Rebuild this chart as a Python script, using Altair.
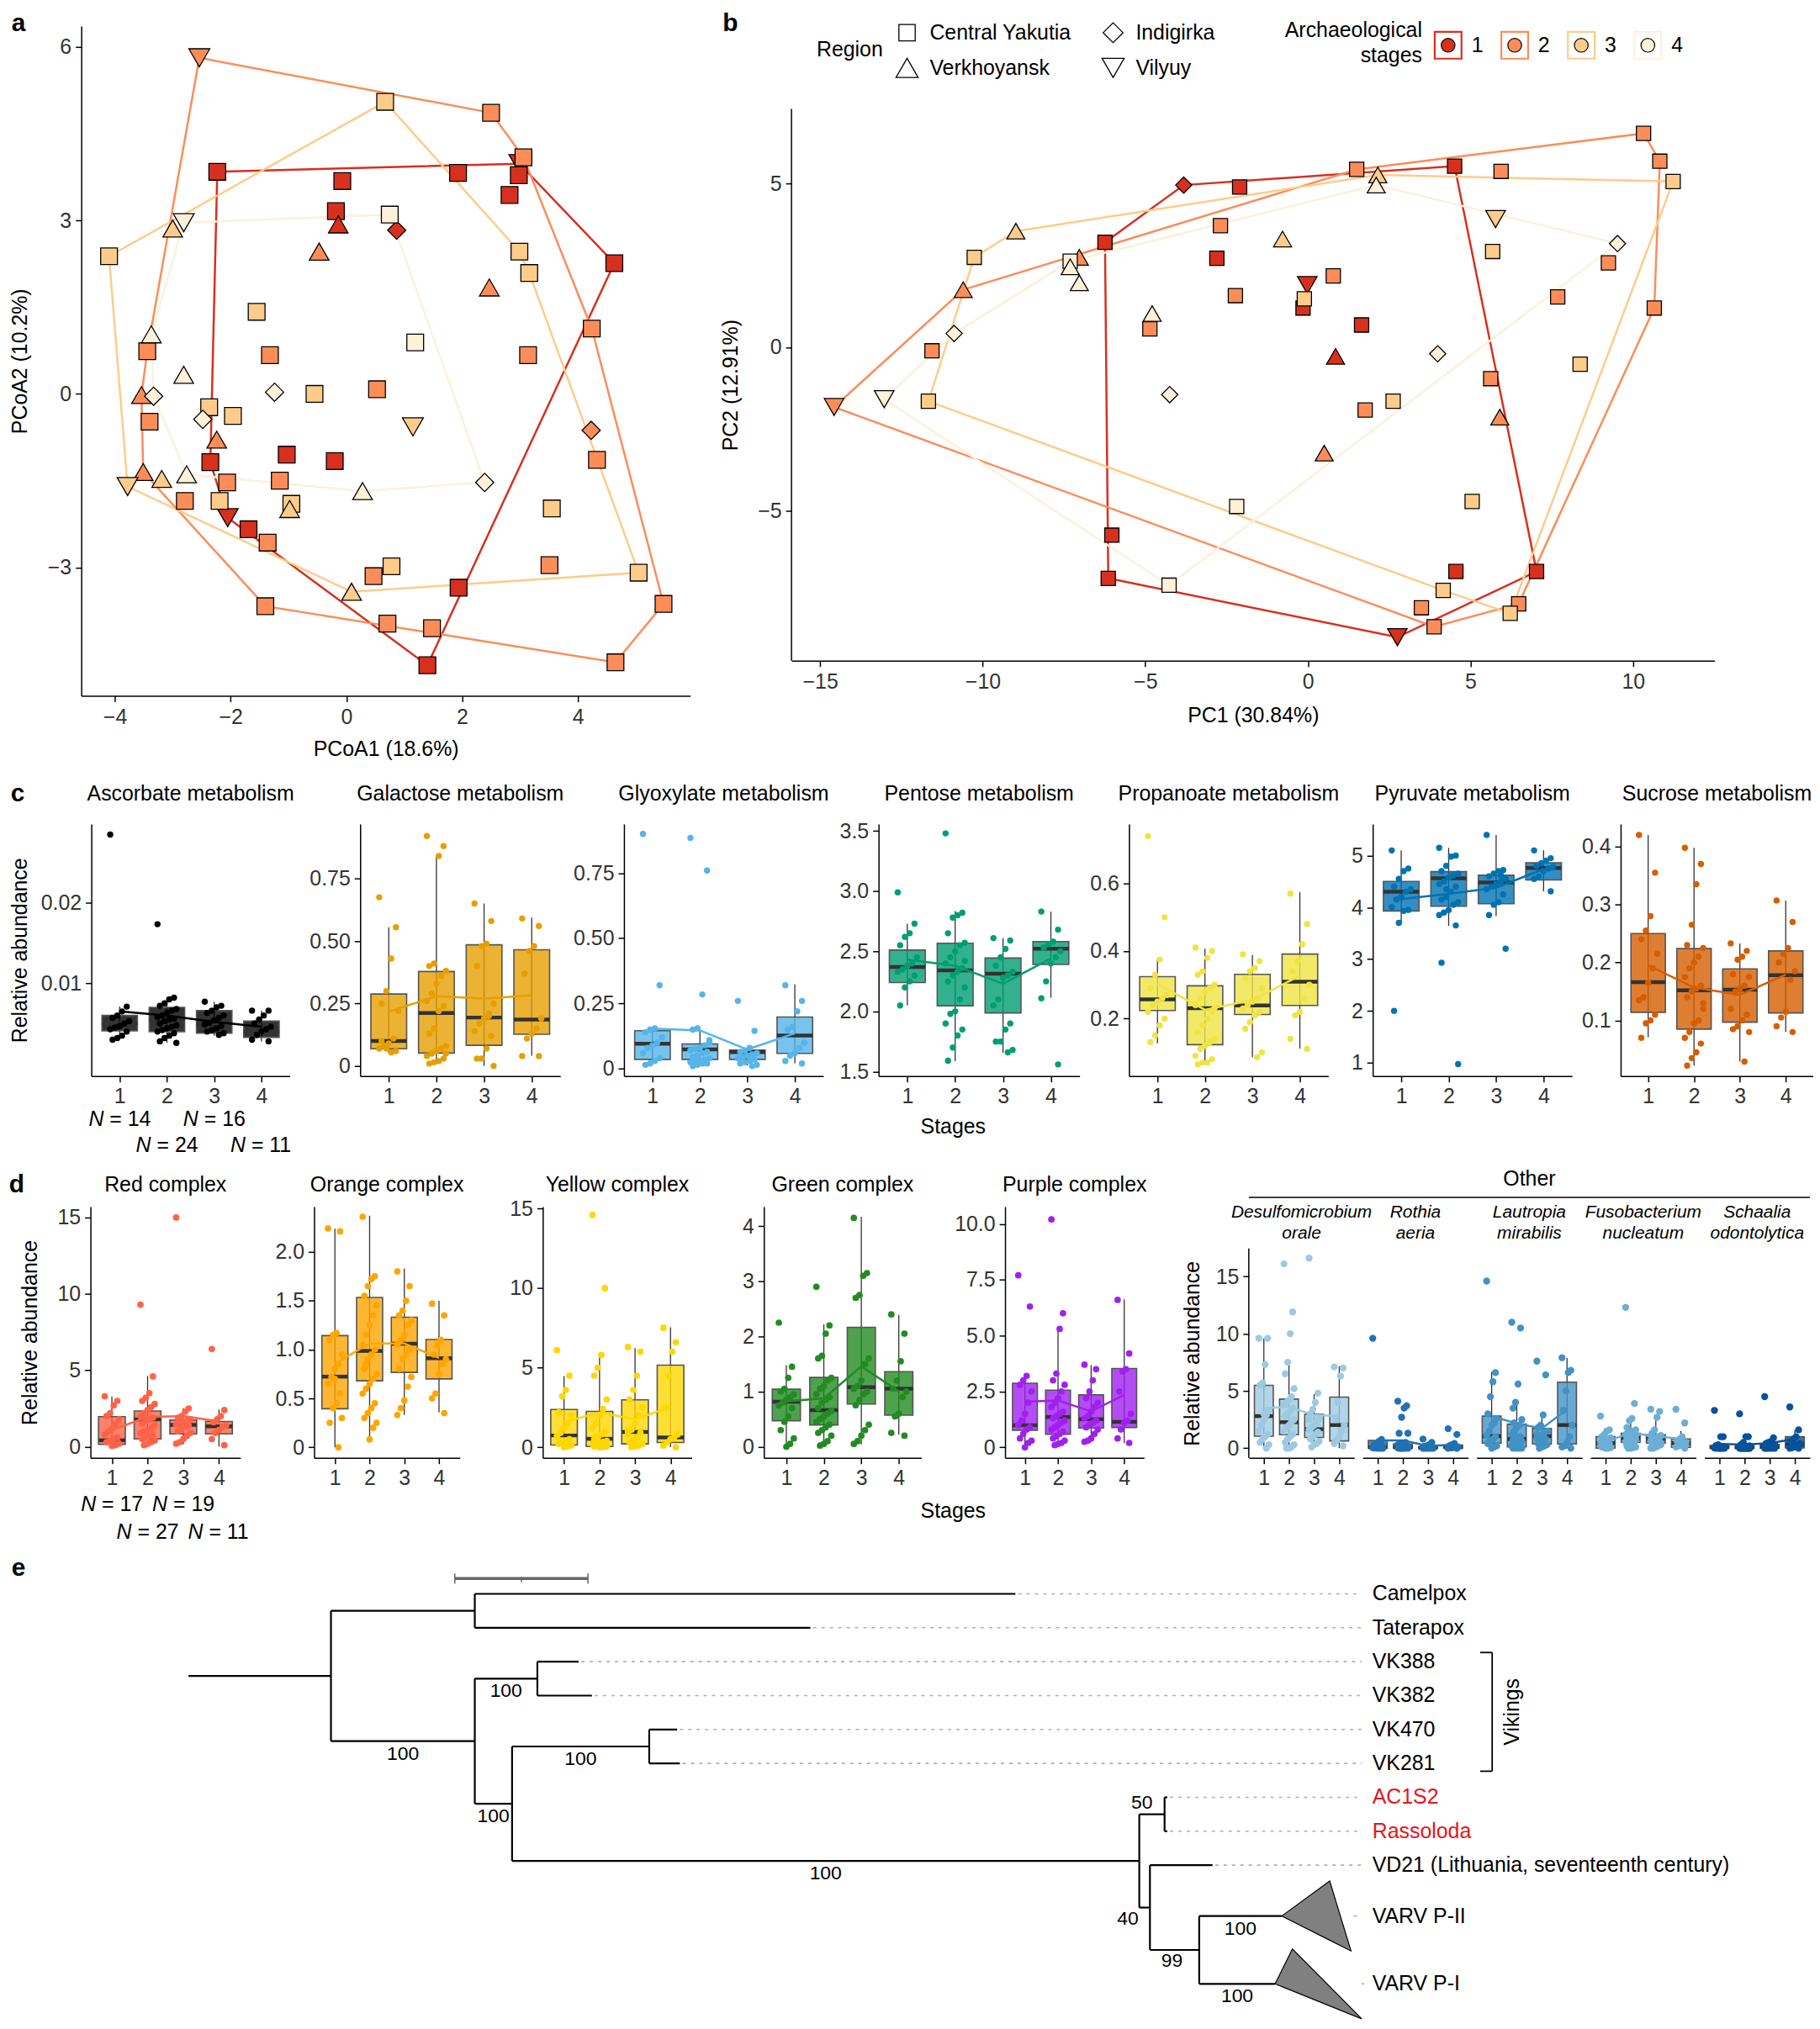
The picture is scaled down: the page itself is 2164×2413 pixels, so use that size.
import altair as alt
import pandas as pd

FONT = "Liberation Sans"
STAGES = [1, 2, 3, 4]
STAGE_KEYS = ["1", "2", "3", "4"]
STAGE_COLORS = ["#d7301f", "#fc8d59", "#fdcc8a", "#fef0d9"]
REGION_NAMES = {"S": "Central Yakutia", "D": "Indigirka", "T": "Verkhoyansk", "V": "Vilyuy"}
REGIONS = ["Central Yakutia", "Indigirka", "Verkhoyansk", "Vilyuy"]
REGION_SHAPES = ["square", "diamond", "triangle-up", "triangle-down"]

# ---------------- panel a (PCoA) ----------------
A_X = [-2.23, -0.07, -0.18, -0.14, 0.87, 1.93, 2.99, 2.98, 2.82, 4.63, -1.03, -0.20, -2.35, -2.05, -1.69, 1.94, 1.40,
       -2.54, 2.50, 3.06, 2.47, 4.24, 3.14, -1.32, 0.53, -0.47, -3.44, -3.54, -3.40, -2.24, -3.51, -2.06, -1.15, -2.79,
       -1.36, -1.40, 0.47, 0.71, 1.48, 3.51, 4.23, 4.33, 5.48, 4.65,
       0.67, -4.10, -3.00, 2.99, 3.16, -1.55, -0.55, -2.37, -1.96, 1.15, -3.78, -3.19, -2.19, -0.95, -0.98, 0.78, 0.09,
       3.55, 5.05,
       -2.81, 0.75, -3.37, -2.81, -3.33, -1.24, -2.48, 1.19, -2.76, 0.28, 2.39]
A_Y = [3.84, 3.68, 3.16, 2.93, 2.83, 3.82, 3.98, 3.78, 3.44, 2.26, -1.05, -1.16, -1.18, -2.14, -2.34, -3.35, -4.69,
       5.81, 4.86, 4.09, 1.84, 1.13, 0.67, 0.67, 0.08, 2.46, 0.74, -0.02, -0.48, -0.79, -1.35, -1.53, -1.50, -1.85,
       -2.57, -3.67, -3.15, -3.97, -4.05, -2.96, -0.63, -1.14, -3.63, -4.64,
       5.05, 2.38, 2.86, 2.46, 2.09, 1.42, 0.00, -0.23, -0.38, -0.57, -1.60, -1.47, -1.85, -1.90, -1.99, -2.98, -3.42,
       -1.98, -3.09,
       2.96, 3.10, 1.03, 0.33, -0.04, 0.03, -0.44, 0.89, -1.39, -1.68, -1.53]
A_STAGE = [1] * 17 + [2] * 27 + [3] * 19 + [4] * 11
A_REGION = list("SSSTDSVSSSSSSVSSS") + list("VSSTSSSSTSTSTTSSSSSSSSSDSSS") + list("SSTSSSSSSVVTSSTSTSS") + list("VSTTDDDSTTD")

# ---------------- panel b (PCA) ----------------
B_X = [-3.82, -2.10, -6.24, -2.80, 4.51, -0.02, -0.15, 1.65, 0.85, -6.03, -6.14, 2.75, 4.55, 7.03,
       10.32, 10.82, 1.50, 5.94, -2.69, -7.03, -10.60, 0.78, -2.23, -4.86, -11.56, -14.57, 9.24, 7.68, 10.65, 5.62,
       1.76, 5.90, 0.50, 3.49, 3.88, 6.48,
       11.23, 2.15, -0.78, -8.98, -10.26, 5.68, 5.77, -0.11, -11.67, 2.62, 8.37, 5.05, 4.16, 6.22,
       2.10, -7.31, -7.31, -7.03, -10.88, -4.79, -13.03, -4.25, 3.99, 9.52, -2.19, -4.27]
B_Y = [4.96, 4.90, 3.21, 2.72, 5.54, 1.90, 1.20, 0.68, -0.28, -5.75, -7.07, -8.87, -6.86, -6.86,
       6.54, 5.69, 5.44, 5.38, 3.72, 2.75, 1.76, 2.18, 1.58, 0.56, -0.11, -1.83, 2.58, 1.54, 1.20, -0.96,
       -1.92, -2.14, -3.24, -7.97, -8.55, -7.85,
       5.07, 5.27, 3.31, 3.55, 2.75, 2.93, 3.92, 1.48, -1.65, -1.65, -0.52, -4.72, -7.44, -8.14,
       4.96, 2.63, 2.46, 1.97, 0.42, 1.03, -1.59, -1.45, -0.20, 3.17, -4.87, -7.28]
B_STAGE = [1] * 14 + [2] * 22 + [3] * 14 + [4] * 12
B_REGION = list("DSSSSVSSTSSVSS") + list("SSSSSTTSSSSVSSSSSTTSSS") + list("STTTSSVSSSSSSS") + list("TSTTDTVDDDSS")

# ---------------- panel c (metabolism) ----------------
N_C = [14, 24, 16, 11]
C_TITLES = ["Ascorbate metabolism", "Galactose metabolism", "Glyoxylate metabolism", "Pentose metabolism",
            "Propanoate metabolism", "Pyruvate metabolism", "Sucrose metabolism"]
C_COLORS = ["#000000", "#E69F00", "#56B4E9", "#009E73", "#F0E442", "#0072B2", "#D55E00"]

ASC_PTS = [[0.0284, 0.0071, 0.0065, 0.0060, 0.0057, 0.0053, 0.0050, 0.0047, 0.0045, 0.0043, 0.0040, 0.0035, 0.0032, 0.0030],
           [0.0173, 0.0082, 0.0080, 0.0075, 0.0072, 0.0068, 0.0066, 0.0063, 0.0060, 0.0058, 0.0056, 0.0055, 0.0053, 0.0050,
            0.0048, 0.0046, 0.0044, 0.0042, 0.0040, 0.0038, 0.0035, 0.0032, 0.0028, 0.0026],
           [0.0077, 0.0072, 0.0070, 0.0066, 0.0063, 0.0060, 0.0057, 0.0054, 0.0051, 0.0049, 0.0047, 0.0044, 0.0042, 0.0040,
            0.0038, 0.0036],
           [0.0066, 0.0066, 0.0060, 0.0055, 0.0050, 0.0046, 0.0043, 0.0040, 0.0036, 0.0030, 0.0028]]
ASC_BOX = [[0.0032, 0.0041, 0.0050, 0.0060, 0.0071], [0.0026, 0.0040, 0.0055, 0.0070, 0.0082],
           [0.0035, 0.0038, 0.0050, 0.0066, 0.0077], [0.0028, 0.0033, 0.0040, 0.0053, 0.0066]]
ASC_TREND = [0.0065, 0.0060, 0.0052, 0.0046]
ASC_DOM, ASC_TICKS = [-0.0015, 0.0297], [0.01, 0.02]

GAL_PTS = [[0.675, 0.555, 0.43, 0.30, 0.25, 0.22, 0.11, 0.09, 0.08, 0.07, 0.06, 0.055, 0.07, 0.10],
           [0.92, 0.88, 0.84, 0.41, 0.40, 0.38, 0.36, 0.33, 0.29, 0.26, 0.24, 0.22, 0.15, 0.13, 0.08, 0.07, 0.06, 0.05,
            0.04, 0.03, 0.02, 0.015, 0.01, 0.05],
           [0.65, 0.58, 0.49, 0.48, 0.40, 0.25, 0.21, 0.19, 0.17, 0.14, 0.12, 0.07, 0.03, 0.03, 0.0, 0.20],
           [0.59, 0.56, 0.48, 0.46, 0.37, 0.19, 0.15, 0.13, 0.11, 0.04, 0.04]]
GAL_BOX = [[0.052, 0.069, 0.100, 0.288, 0.555], [0.008, 0.052, 0.212, 0.378, 0.842],
           [0.0, 0.083, 0.194, 0.485, 0.650], [0.041, 0.127, 0.186, 0.465, 0.594]]
GAL_TREND = [0.218, 0.279, 0.270, 0.283]
GAL_DOM, GAL_TICKS = [-0.04, 0.968], [0, 0.25, 0.5, 0.75]

GLY_PTS = [[0.90, 0.32, 0.155, 0.15, 0.14, 0.12, 0.10, 0.09, 0.08, 0.06, 0.04, 0.03, 0.02, 0.015],
           [0.885, 0.76, 0.285, 0.155, 0.15, 0.11, 0.09, 0.08, 0.075, 0.07, 0.065, 0.06, 0.05, 0.045, 0.04, 0.035, 0.03,
            0.03, 0.025, 0.02, 0.02, 0.015, 0.01, 0.10],
           [0.26, 0.145, 0.08, 0.07, 0.065, 0.06, 0.055, 0.05, 0.045, 0.04, 0.035, 0.03, 0.025, 0.02, 0.015, 0.01],
           [0.32, 0.26, 0.22, 0.16, 0.15, 0.10, 0.08, 0.06, 0.05, 0.03, 0.02]]
GLY_BOX = [[0.015, 0.036, 0.096, 0.146, 0.157], [0.012, 0.036, 0.074, 0.095, 0.152],
           [0.012, 0.036, 0.064, 0.072, 0.080], [0.021, 0.059, 0.127, 0.198, 0.323]]
GLY_TREND = [0.154, 0.147, 0.074, 0.136]
GLY_DOM, GLY_TICKS = [-0.028, 0.938], [0, 0.25, 0.5, 0.75]

PEN_PTS = [[2.99, 2.73, 2.65, 2.62, 2.55, 2.45, 2.40, 2.38, 2.35, 2.33, 2.30, 2.25, 2.20, 2.05],
           [3.48, 2.82, 2.80, 2.78, 2.65, 2.57, 2.55, 2.50, 2.45, 2.40, 2.36, 2.33, 2.30, 2.25, 2.20, 2.10, 2.00, 1.98,
            1.90, 1.85, 1.80, 1.70, 1.59, 2.42],
           [2.61, 2.59, 2.52, 2.45, 2.38, 2.33, 2.30, 2.28, 2.10, 2.05, 1.90, 1.85, 1.75, 1.75, 1.68, 1.66],
           [2.83, 2.68, 2.58, 2.56, 2.53, 2.50, 2.45, 2.40, 2.25, 2.11, 1.56]]
PEN_BOX = [[2.05, 2.24, 2.37, 2.51, 2.73], [1.586, 2.047, 2.342, 2.567, 2.835],
           [1.656, 1.988, 2.314, 2.444, 2.61], [2.114, 2.391, 2.521, 2.581, 2.83]]
PEN_TREND = [2.43, 2.38, 2.23, 2.44]
PEN_DOM, PEN_TICKS = [1.463, 3.558], [1.5, 2.0, 2.5, 3.0, 3.5]

PRO_PTS = [[0.74, 0.50, 0.375, 0.33, 0.29, 0.27, 0.26, 0.25, 0.24, 0.22, 0.20, 0.18, 0.15, 0.13],
           [0.41, 0.40, 0.38, 0.34, 0.33, 0.30, 0.29, 0.28, 0.26, 0.24, 0.22, 0.20, 0.18, 0.16, 0.14, 0.13, 0.12, 0.11,
            0.09, 0.08, 0.07, 0.07, 0.065, 0.23],
           [0.39, 0.37, 0.35, 0.34, 0.32, 0.29, 0.26, 0.25, 0.24, 0.23, 0.22, 0.21, 0.19, 0.17, 0.10, 0.086],
           [0.57, 0.48, 0.42, 0.37, 0.34, 0.30, 0.26, 0.22, 0.21, 0.14, 0.11]]
PRO_BOX = [[0.127, 0.224, 0.257, 0.324, 0.375], [0.065, 0.123, 0.231, 0.297, 0.407],
           [0.086, 0.212, 0.239, 0.331, 0.388], [0.111, 0.239, 0.309, 0.391, 0.574]]
PRO_TREND = [0.302, 0.226, 0.255, 0.327]
PRO_DOM, PRO_TICKS = [0.030, 0.776], [0.2, 0.4, 0.6]

PYR_PTS = [[5.10, 4.75, 4.70, 4.55, 4.40, 4.35, 4.30, 4.20, 4.15, 4.00, 3.95, 3.93, 3.70, 2.00],
           [5.15, 5.00, 4.98, 4.80, 4.70, 4.65, 4.62, 4.58, 4.50, 4.45, 4.40, 4.30, 4.20, 4.15, 4.10, 4.05, 3.95, 3.90,
            3.85, 3.65, 4.60, 4.35, 2.93, 0.97],
           [5.40, 4.72, 4.70, 4.65, 4.60, 4.55, 4.50, 4.45, 4.40, 4.35, 4.25, 4.10, 4.05, 3.85, 3.20, 4.62],
           [5.10, 4.95, 4.90, 4.85, 4.80, 4.78, 4.75, 4.70, 4.60, 4.55, 4.31]]
PYR_BOX = [[3.69, 3.93, 4.30, 4.50, 5.10], [3.64, 4.02, 4.56, 4.69, 5.15],
           [3.83, 4.07, 4.48, 4.62, 5.40], [4.31, 4.53, 4.76, 4.86, 5.10]]
PYR_TREND = [4.16, 4.26, 4.38, 4.74]
PYR_DOM, PYR_TICKS = [0.74, 5.61], [1, 2, 3, 4, 5]

SUC_PTS = [[0.42, 0.355, 0.28, 0.255, 0.24, 0.215, 0.19, 0.165, 0.14, 0.135, 0.11, 0.10, 0.095, 0.07],
           [0.398, 0.37, 0.335, 0.265, 0.23, 0.225, 0.21, 0.20, 0.19, 0.175, 0.16, 0.155, 0.15, 0.14, 0.12, 0.10,
            0.095, 0.08, 0.07, 0.06, 0.045, 0.035, 0.022, 0.13],
           [0.233, 0.22, 0.21, 0.205, 0.18, 0.175, 0.16, 0.155, 0.15, 0.12, 0.11, 0.10, 0.09, 0.085, 0.08, 0.029],
           [0.307, 0.27, 0.225, 0.215, 0.20, 0.185, 0.17, 0.115, 0.105, 0.09, 0.08]]
SUC_BOX = [[0.071, 0.114, 0.166, 0.250, 0.42], [0.022, 0.085, 0.152, 0.224, 0.398],
           [0.029, 0.097, 0.153, 0.189, 0.233], [0.080, 0.113, 0.178, 0.220, 0.307]]
SUC_TREND = [0.195, 0.157, 0.144, 0.179]
SUC_DOM, SUC_TICKS = [0.004, 0.439], [0.1, 0.2, 0.3, 0.4]

# ---------------- panel d (complexes and other taxa) ----------------
N_D = [17, 27, 19, 11]
D_TITLES = ["Red complex", "Orange complex", "Yellow complex", "Green complex", "Purple complex"]
D_COLORS = ["#FF6347", "#FFA500", "#FFD700", "#228B22", "#A020F0"]

RED_PTS = [[3.3, 3.0, 2.7, 2.2, 2.0, 1.8, 1.5, 1.2, 1.0, 0.8, 0.6, 0.5, 0.4, 0.3, 0.2, 0.1, 0.05],
           [9.3, 4.6, 3.5, 3.2, 3.0, 2.8, 2.6, 2.4, 2.2, 2.0, 1.9, 1.8, 1.7, 1.5, 1.4, 1.2, 1.1, 1.0, 0.9, 0.8, 0.7,
            0.6, 0.5, 0.4, 0.3, 0.2, 0.1],
           [15.0, 2.5, 2.3, 2.0, 1.9, 1.8, 1.7, 1.6, 1.5, 1.45, 1.4, 1.3, 1.2, 1.0, 0.9, 0.7, 0.5, 0.3, 0.2],
           [6.4, 2.4, 2.0, 1.8, 1.6, 1.4, 1.3, 1.1, 0.9, 0.5, 0.1]]
RED_BOX = [[0.0, 0.15, 0.42, 1.97, 3.29], [0.0, 0.51, 1.79, 2.34, 4.63], [0.15, 0.84, 1.43, 1.75, 2.52],
           [0.0, 0.84, 1.33, 1.65, 2.43]]
RED_TREND = [1.10, 1.94, 2.01, 1.65]
RED_DOM, RED_TICKS = [-0.73, 15.71], [0, 5, 10, 15]

ORA_PTS = [[2.24, 2.21, 1.17, 1.15, 1.10, 0.95, 0.85, 0.80, 0.72, 0.65, 0.55, 0.45, 0.40, 0.25, 0.30, 0.0, 0.7],
           [2.36, 1.75, 1.72, 1.65, 1.55, 1.45, 1.35, 1.25, 1.15, 1.05, 1.00, 0.95, 0.90, 0.80, 0.75, 0.70, 0.65, 0.60,
            0.55, 0.45, 0.40, 0.35, 0.30, 0.25, 0.20, 0.08, 0.85],
           [1.80, 1.65, 1.50, 1.40, 1.35, 1.30, 1.25, 1.15, 1.10, 1.05, 1.00, 0.95, 0.90, 0.80, 0.72, 0.62, 0.48, 0.40,
            0.33],
           [1.47, 1.35, 1.10, 1.05, 0.95, 0.90, 0.85, 0.75, 0.55, 0.50, 0.35]]
ORA_BOX = [[0.0, 0.394, 0.723, 1.143, 2.237], [0.086, 0.680, 0.986, 1.534, 2.37], [0.33, 0.766, 1.06, 1.331, 1.83],
           [0.357, 0.70, 0.911, 1.103, 1.5]]
ORA_TREND = [0.857, 1.063, 1.063, 0.914]
ORA_DOM, ORA_TICKS = [-0.109, 2.463], [0, 0.5, 1.0, 1.5, 2.0]

YEL_PTS = [[6.1, 4.5, 3.6, 3.2, 2.2, 2.0, 1.5, 1.2, 0.9, 0.7, 0.5, 0.4, 0.3, 0.2, 0.1, 0.05, 0.0],
           [14.6, 10.0, 5.8, 5.0, 4.5, 3.0, 2.4, 2.0, 1.5, 1.2, 1.0, 0.8, 0.6, 0.5, 0.4, 0.35, 0.3, 0.25, 0.2, 0.15,
            0.1, 0.1, 0.05, 0.05, 0.0, 0.0, 0.7],
           [6.3, 6.0, 4.5, 3.6, 3.0, 2.5, 2.0, 1.5, 1.1, 1.0, 0.9, 0.6, 0.4, 0.3, 0.2, 0.1, 0.05, 0.0, 0.8],
           [7.5, 6.6, 6.0, 4.5, 2.5, 0.8, 0.6, 0.5, 0.3, 0.1, 0.0]]
YEL_BOX = [[0, 0.14, 0.74, 2.37, 4.47], [0, 0.05, 0.53, 2.25, 5.88], [0, 0.21, 0.96, 2.98, 6.23],
           [0, 0.30, 0.61, 5.16, 7.54]]
YEL_TREND = [1.58, 2.19, 1.75, 2.54]
YEL_DOM, YEL_TICKS = [-0.67, 15.12], [0, 5, 10, 15]

GRN_PTS = [[2.25, 1.45, 1.25, 1.05, 1.00, 0.95, 0.90, 0.85, 0.80, 0.75, 0.70, 0.55, 0.45, 0.30, 0.15, 0.05, 0.0],
           [2.9, 2.2, 2.05, 1.65, 1.60, 1.25, 1.20, 1.10, 1.05, 0.95, 0.90, 0.85, 0.80, 0.70, 0.65, 0.60, 0.55, 0.50,
            0.45, 0.40, 0.35, 0.30, 0.25, 0.20, 0.10, 0.05, 0.02],
           [4.15, 3.15, 3.10, 2.75, 2.70, 1.60, 1.50, 1.20, 1.10, 1.05, 1.00, 0.95, 0.85, 0.75, 0.40, 0.30, 0.20, 0.10,
            0.05],
           [2.40, 2.05, 1.55, 1.20, 1.05, 1.00, 0.90, 0.60, 0.55, 0.25, 0.20]]
GRN_BOX = [[0, 0.471, 0.815, 1.043, 1.48], [0.015, 0.395, 0.663, 1.256, 2.22], [0.04, 0.775, 1.078, 2.167, 4.17],
           [0.218, 0.572, 1.053, 1.362, 2.39]]
GRN_TREND = [0.825, 0.876, 1.458, 1.003]
GRN_DOM, GRN_TICKS = [-0.203, 4.354], [0, 1, 2, 3, 4]

PUR_PTS = [[7.7, 6.3, 3.2, 3.0, 2.8, 2.5, 2.0, 1.5, 1.2, 1.0, 0.9, 0.8, 0.6, 0.4, 0.3, 0.2, 0.0],
           [10.2, 6.0, 5.3, 3.3, 3.0, 2.8, 2.5, 2.2, 2.0, 1.8, 1.6, 1.5, 1.4, 1.3, 1.2, 1.1, 1.0, 0.9, 0.8, 0.7, 0.6,
            0.5, 0.4, 0.3, 0.2, 0.15, 0.1],
           [3.7, 3.5, 3.0, 2.5, 2.2, 2.0, 1.8, 1.6, 1.4, 1.3, 1.2, 1.1, 1.0, 0.9, 0.8, 0.6, 0.4, 0.3, 0.25],
           [6.6, 4.2, 3.5, 3.4, 2.5, 1.5, 1.2, 1.1, 0.8, 0.4, 0.2]]
PUR_BOX = [[0, 0.77, 0.99, 2.87, 3.28], [0.12, 0.59, 1.36, 2.56, 5.30], [0.25, 0.87, 1.26, 2.35, 3.68],
           [0.19, 0.89, 1.14, 3.53, 6.62]]
PUR_TREND = [2.04, 2.10, 1.61, 2.35]
PUR_DOM, PUR_TICKS = [-0.47, 10.77], [0, 2.5, 5.0, 7.5, 10.0]

OTHER_LINE1 = ["Desulfomicrobium", "Rothia", "Lautropia", "Fusobacterium", "Schaalia"]
OTHER_LINE2 = ["orale", "aeria", "mirabilis", "nucleatum", "odontolytica"]
OTHER_COLORS = ["#9ECAE1", "#2171B5", "#4292C6", "#6BAED6", "#08519C"]
OTHER_VISIBLE_DOM = [-0.85, 17.44]
OTHER_TICKS = [0, 5, 10, 15]

DES_PTS = [[9.6, 9.6, 7.3, 5.7, 5.5, 3.3, 2.9, 2.5, 2.0, 1.5, 1.2, 1.0, 0.8, 0.5, 0.3, 0.0, 3.0],
           [16.1, 11.9, 10.0, 7.5, 6.5, 5.2, 4.5, 4.2, 4.0, 3.8, 3.5, 3.2, 3.0, 2.8, 2.5, 2.3, 2.0, 1.8, 1.5, 1.2, 1.0,
            0.8, 0.5, 0.3, 0.1, 0.0, 0.0],
           [16.6, 4.8, 4.0, 3.4, 3.0, 2.6, 2.2, 2.0, 1.8, 1.6, 1.4, 1.2, 1.0, 0.8, 0.6, 0.4, 0.3, 0.1, 2.5],
           [7.1, 7.0, 6.3, 4.0, 2.5, 2.0, 1.5, 1.0, 0.7, 0.4, 0.2]]
DES_BOX = [[0, 1.05, 2.80, 5.49, 9.59], [0, 1.17, 2.27, 4.29, 7.27], [0, 0.93, 1.66, 2.95, 4.71], [0, 0.63, 2.02, 4.46, 7.15]]
DES_TREND = [3.49, 3.61, 2.88, 2.80]

ROT_PTS = [[9.6, 0.75, 0.6, 0.4, 0.3, 0.2, 0.15, 0.1, 0.08, 0.05, 0.05, 0.03, 0.02, 0.01, 0, 0, 0],
           [4.1, 3.7, 3.5, 2.7, 1.3, 1.3, 0.5, 0.4, 0.35, 0.3, 0.25, 0.2, 0.15, 0.1, 0.1, 0.08, 0.05, 0.05, 0.03, 0.02,
            0.01, 0, 0, 0, 0, 0, 0],
           [0.8, 0.5, 0.3, 0.2, 0.15, 0.1, 0.1, 0.08, 0.05, 0.05, 0.03, 0.02, 0.01, 0.01, 0, 0, 0, 0, 0],
           [1.7, 1.2, 0.4, 0.3, 0.2, 0.1, 0.08, 0.05, 0.02, 0, 0]]
ROT_BOX = [[0, 0, 0.07, 0.68, 0.8], [0, 0, 0.07, 0.37, 0.6], [0, 0, 0.02, 0.12, 0.3], [0, 0, 0.08, 0.27, 0.5]]
ROT_TREND = [0.68, 0.68, 0.20, 0.30]

LAU_PTS = [[14.6, 6.6, 5.8, 4.5, 3.0, 2.6, 2.2, 2.0, 1.5, 1.1, 1.0, 0.8, 0.6, 0.4, 0.2, 0.1, 0.0],
           [11.0, 10.5, 5.6, 4.0, 3.5, 2.5, 2.0, 1.8, 1.5, 1.2, 1.0, 0.9, 0.8, 0.7, 0.6, 0.5, 0.4, 0.3, 0.2, 0.15, 0.1,
            0.05, 0.0, 0.0, 0.0, 0.0, 2.2],
           [7.6, 6.4, 2.9, 2.0, 1.8, 1.5, 1.3, 1.1, 1.0, 0.9, 0.8, 0.6, 0.5, 0.4, 0.3, 0.2, 0.1, 0.0, 1.2],
           [7.9, 6.8, 6.6, 5.0, 3.3, 2.0, 1.0, 0.5, 0.2, 0.1, 0.0]]
LAU_BOX = [[0, 0.44, 1.05, 2.80, 6.66], [0, 0.12, 0.80, 2.10, 4.10], [0, 0.37, 1.05, 1.73, 3.0], [0, 0.37, 2.02, 5.76, 7.88]]
LAU_TREND = [2.80, 2.15, 1.73, 3.37]

FUS_PTS = [[2.8, 1.6, 1.5, 1.2, 1.0, 0.9, 0.8, 0.7, 0.6, 0.5, 0.4, 0.3, 0.2, 0.1, 0.05, 0.0, 0.0],
           [12.3, 3.9, 2.6, 2.4, 1.8, 1.6, 1.5, 1.4, 1.3, 1.2, 1.1, 1.0, 0.95, 0.9, 0.85, 0.8, 0.7, 0.6, 0.55, 0.5, 0.4,
            0.3, 0.2, 0.1, 0.05, 0.0, 0.0],
           [3.4, 3.2, 2.7, 1.6, 1.3, 1.1, 1.0, 0.9, 0.8, 0.7, 0.6, 0.5, 0.45, 0.4, 0.3, 0.2, 0.1, 0.0, 0.0],
           [3.4, 2.2, 1.0, 0.8, 0.6, 0.5, 0.4, 0.3, 0.2, 0.1, 0.0]]
FUS_BOX = [[0, 0, 0.44, 1.0, 1.66], [0, 0.51, 0.88, 1.29, 2.63], [0, 0.44, 0.80, 1.17, 2.5], [0, 0.07, 0.44, 0.80, 1.5]]
FUS_TREND = [0.56, 1.34, 1.05, 0.80]

SCH_PTS = [[3.3, 1.0, 1.0, 0.3, 0.2, 0.1, 0.1, 0.05, 0.03, 0.02, 0.01, 0, 0, 0, 0, 0, 0],
           [3.0, 1.0, 1.0, 0.5, 0.3, 0.2, 0.15, 0.1, 0.1, 0.05, 0.05, 0.03, 0.02, 0.01, 0, 0, 0, 0, 0, 0, 0, 0, 0, 0,
            0, 0, 0],
           [4.5, 0.9, 0.6, 0.5, 0.4, 0.3, 0.2, 0.15, 0.1, 0.05, 0.03, 0.02, 0.01, 0, 0, 0, 0, 0, 0],
           [3.6, 1.6, 1.0, 0.8, 0.6, 0.4, 0.2, 0.1, 0.05, 0, 0]]
SCH_BOX = [[0, 0, 0.07, 0.24, 0.5], [0, 0, 0.05, 0.24, 0.5], [0, 0, 0.10, 0.32, 0.7], [0, 0.02, 0.32, 1.0, 1.6]]
SCH_TREND = [0.37, 0.32, 0.44, 0.80]

# ---------------- panel e (phylogeny) ----------------
NODE_NAMES = ["root", "A", "B", "Camelpox", "Taterapox", "C", "D", "VK388", "VK382", "E", "F", "VK470", "VK281",
              "G", "H", "AC1S2", "Rassoloda", "I", "VD21 (Lithuania, seventeenth century)", "J", "VARV P-II", "VARV P-I"]
NODE_PARENTS = [None, "root", "A", "B", "B", "A", "C", "D", "D", "C", "E", "F", "F", "E", "G", "H", "H", "G", "I",
                "I", "J", "J"]
BRANCH_LENGTHS = [0.0, 1.07, 1.08, 4.06, 2.52, 1.08, 0.47, 0.31, 0.41, 0.28, 1.03, 0.21, 0.23, 4.71, 0.19, 0.02,
                  0.02, 0.08, 0.47, 0.37, 0.62, 0.57]
BOOT_NODES = ["C", "D", "E", "F", "G", "H", "I", "J", "VARV P-II", "VARV P-I"]
BOOT_VALUES = [100, 100, 100, 100, 100, 50, 40, 99, 100, 100]
COLLAPSED = ["VARV P-II", "VARV P-I"]
COLLAPSED_DEPTH_TOP = [0.36, 0.13]
COLLAPSED_DEPTH_BOTTOM = [0.52, 0.65]
HIGHLIGHT_TIPS = ["AC1S2", "Rassoloda"]
VIKING_TIPS = ["VK388", "VK382", "VK470", "VK281"]
SCALE_BAR_LENGTH = 1.0

ONE = pd.DataFrame({"a": [0]})


# =====================================================================
def text_layer(x, y, label, size=25, weight="normal", style="normal", align="center", baseline="middle",
               angle=None, color="black"):
    kw = dict(font=FONT, fontSize=size, fontWeight=weight, fontStyle=style, align=align, baseline=baseline,
              color=color)
    if angle is not None:
        kw["angle"] = angle
    return alt.Chart(pd.DataFrame({"t": [label]})).mark_text(**kw).encode(
        x=alt.value(x), y=alt.value(y), text="t:N")


def anchor_layer(x, y1, y2):
    # white (invisible on the white page) line that fixes the vertical extent of a row
    return alt.Chart(ONE).mark_rule(color="white", strokeWidth=1).encode(
        x=alt.value(x), y=alt.value(y1), y2=alt.value(y2))


def vline(x, y1, y2, color="black", width=1.5):
    return alt.Chart(ONE).mark_rule(color=color, strokeWidth=width).encode(
        x=alt.value(x), y=alt.value(y1), y2=alt.value(y2))


def spacer(w, h, layers=()):
    base = alt.Chart(ONE).mark_point(opacity=0).encode(x=alt.value(0), y=alt.value(0))
    return alt.layer(*layers, base).properties(width=w, height=h)


def convex_hull(points):
    pts = sorted(set(points))
    if len(pts) <= 2:
        return pts

    def cross(o, a, b):
        return (a[0] - o[0]) * (b[1] - o[1]) - (a[1] - o[1]) * (b[0] - o[0])

    lower, upper = [], []
    for p in pts:
        while len(lower) >= 2 and cross(lower[-2], lower[-1], p) <= 0:
            lower.pop()
        lower.append(p)
    for p in reversed(pts):
        while len(upper) >= 2 and cross(upper[-2], upper[-1], p) <= 0:
            upper.pop()
        upper.append(p)
    return lower[:-1] + upper[:-1]


def ord_panel(xs_, ys_, st_, rg_, xdom, ydom, xticks, yticks, w, h, xtitle, ytitle, xpad, ypad, sizes,
              pre=(), post=(), ydomain_line=True, ytitle_y=None):
    df = pd.DataFrame({"x": xs_, "y": ys_, "stage": [str(s) for s in st_],
                       "region": [REGION_NAMES[r] for r in rg_]})
    hrows = []
    for s in STAGE_KEYS:
        sub = df[df.stage == s]
        hull = convex_hull(list(zip(sub.x, sub.y)))
        hull = hull + hull[:1]
        for i, (hx, hy) in enumerate(hull):
            hrows.append({"x": hx, "y": hy, "stage": s, "o": i})
    dh = pd.DataFrame(hrows)
    XS = alt.Scale(domain=xdom, nice=False, zero=False)
    YS = alt.Scale(domain=ydom, nice=False, zero=False)
    xax = alt.Axis(values=xticks, title=xtitle, titlePadding=xpad, labelPadding=6)
    ykw = dict(values=yticks, title=ytitle, titlePadding=ypad, domain=ydomain_line)
    if ytitle_y is not None:
        ykw["titleY"] = ytitle_y
    yax = alt.Axis(**ykw)
    stage_scale = alt.Scale(domain=STAGE_KEYS, range=STAGE_COLORS)
    hull_l = alt.Chart(dh).mark_line(strokeWidth=2.5).encode(
        x=alt.X("x:Q", scale=XS, axis=xax, title=xtitle),
        y=alt.Y("y:Q", scale=YS, axis=yax, title=ytitle),
        color=alt.Color("stage:N", scale=stage_scale, legend=None),
        detail="stage:N", order="o:Q")
    pts = alt.Chart(df).mark_point(filled=True, stroke="black", strokeWidth=1.3, opacity=1, fillOpacity=1).encode(
        x=alt.X("x:Q", scale=XS, axis=xax, title=xtitle),
        y=alt.Y("y:Q", scale=YS, axis=yax, title=ytitle),
        fill=alt.Fill("stage:N", scale=stage_scale, legend=None),
        shape=alt.Shape("region:N", scale=alt.Scale(domain=REGIONS, range=REGION_SHAPES), legend=None),
        size=alt.Size("region:N", scale=alt.Scale(domain=REGIONS, range=sizes), legend=None))
    return alt.layer(*pre, hull_l, pts, *post).properties(width=w, height=h)


def box_panel(pts, box, trend, color, dom, ticks, fmt, w, h, title=None, title_dy=36, yaxis=True,
              ytitle=None, ytitle_pad=16, ytitle_y=None, ydomain_line=True, pt_size=55, extra=None, pre=()):
    dpts = pd.DataFrame([{"stage": s, "k": k, "value": v} for s, vals in zip(STAGES, pts)
                         for k, v in enumerate(vals)])
    dbox = pd.DataFrame({"stage": STAGES, "lo": [b[0] for b in box], "q1": [b[1] for b in box],
                         "med": [b[2] for b in box], "q3": [b[3] for b in box], "hi": [b[4] for b in box]})
    dtr = pd.DataFrame({"stage": STAGES, "value": trend})
    xs = alt.Scale(domain=[0.4, 4.6], nice=False, zero=False)
    ys = alt.Scale(domain=dom, nice=False, zero=False)
    xax = alt.Axis(values=STAGES, format="d", title=None)
    if yaxis:
        kw = dict(values=ticks, labelExpr=f"datum.value == 0 ? '0' : format(datum.value, '{fmt}')",
                  title=ytitle, domain=ydomain_line)
        if ytitle:
            kw["titlePadding"] = ytitle_pad
        if ytitle_y is not None:
            kw["titleY"] = ytitle_y
        yax = alt.Axis(**kw)
    else:
        yax = None

    def X(f):
        return alt.X(f, scale=xs, axis=xax, title=None)

    def Y(f):
        return alt.Y(f, scale=ys, axis=yax, title=ytitle)

    whisk = alt.Chart(dbox).mark_rule(color="#333333", strokeWidth=1.3).encode(
        x=X("stage:Q"), y=Y("lo:Q"), y2="hi:Q")
    boxes = alt.Chart(dbox).transform_calculate(xa="datum.stage - 0.375", xb="datum.stage + 0.375").mark_rect(
        fill=color, fillOpacity=0.8, stroke="#555555", strokeWidth=1.6).encode(
        x=X("xa:Q"), x2="xb:Q", y=Y("q1:Q"), y2="q3:Q")
    med = alt.Chart(dbox).transform_calculate(xa="datum.stage - 0.375", xb="datum.stage + 0.375").mark_rule(
        color="#333333", strokeWidth=4.5).encode(x=X("xa:Q"), x2="xb:Q", y=Y("med:Q"))
    points = alt.Chart(dpts).transform_calculate(
        xj="datum.stage + (((datum.k * 7) % 9) - 4) * 0.05").mark_circle(
        size=pt_size, color=color, opacity=1).encode(x=X("xj:Q"), y=Y("value:Q"))
    line = alt.Chart(dtr).mark_line(color=color, strokeWidth=2.5).encode(x=X("stage:Q"), y=Y("value:Q"))
    layers = list(pre) + [whisk, boxes, med, points, line]
    if title:
        layers.append(text_layer(w / 2, -title_dy, title))
    if extra is not None:
        layers += extra(X, Y, w, h)
    return alt.layer(*layers).properties(width=w, height=h)


def n_labels(counts, y1, y2):
    def make(X, Y, w, h):
        dN = pd.DataFrame({"stage": STAGES, "n": counts})
        out = []
        for parity, yoff in [(1, y1), (0, y2)]:
            base = alt.Chart(dN).transform_filter(f"datum.stage % 2 == {parity}")
            out.append(base.mark_text(font=FONT, fontSize=25, fontStyle="italic", align="right",
                                      baseline="middle", dx=-19, color="black").encode(
                x=X("stage:Q"), y=alt.value(h + yoff), text=alt.value("N")))
            out.append(base.transform_calculate(lab="'= ' + datum.n").mark_text(
                font=FONT, fontSize=25, align="left", baseline="middle", dx=-12, color="black").encode(
                x=X("stage:Q"), y=alt.value(h + yoff), text="lab:N"))
        return out
    return make


# ---------------- row 1 ----------------
A_LEFT, A_TOP = 86, 17
A_W, A_H = 727, 800
B_LEFT = 934
B_W, B_TOPGAP, B_PLOT_H = 1102, 99, 659
B_YDOM_DATA = [-9.59, 7.29]
b_units_per_px = (B_YDOM_DATA[1] - B_YDOM_DATA[0]) / B_PLOT_H
B_YDOM = [B_YDOM_DATA[0], B_YDOM_DATA[1] + B_TOPGAP * b_units_per_px]
B_H = B_TOPGAP + B_PLOT_H

legend_layers = [text_layer(30, 28, "Region", align="left")]
LEG_SHAPE_SIZES = [380, 560, 700, 700]
for i, r in enumerate(REGIONS):
    col, row = i % 2, i // 2
    sx, sy = 138 + col * 246, 8 + row * 42
    legend_layers.append(alt.Chart(ONE).mark_point(
        shape=REGION_SHAPES[i], size=LEG_SHAPE_SIZES[i], filled=True, fill="white", stroke="black",
        strokeWidth=1.3, opacity=1).encode(x=alt.value(sx), y=alt.value(sy)))
    legend_layers.append(text_layer(sx + 27, sy, r, align="left"))
legend_layers += [text_layer(753, 5, "Archaeological", align="right"), text_layer(753, 35, "stages", align="right")]
for i, s in enumerate(STAGE_KEYS):
    cx = 784 + i * 79.5
    legend_layers.append(alt.Chart(ONE).mark_point(shape="square", size=1024, filled=False,
                                                   stroke=STAGE_COLORS[i], strokeWidth=2.2, opacity=1).encode(
        x=alt.value(cx), y=alt.value(23)))
    legend_layers.append(alt.Chart(ONE).mark_point(shape="circle", size=270, filled=True, fill=STAGE_COLORS[i],
                                                   stroke="black", strokeWidth=1.2, opacity=1).encode(
        x=alt.value(cx), y=alt.value(23)))
    legend_layers.append(text_layer(cx + 28, 23, s, align="left"))

panel_a = ord_panel(A_X, A_Y, A_STAGE, A_REGION, [-4.58, 5.94], [-5.22, 6.36], [-4, -2, 0, 2, 4], [-3, 0, 3, 6],
                    A_W, A_H, "PCoA1 (18.6%)", "PCoA2 (10.2%)", 13, 20, [400, 625, 900, 900])
panel_b = ord_panel(B_X, B_Y, B_STAGE, B_REGION, [-15.88, 12.5], B_YDOM, [-15, -10, -5, 0, 5, 10],
                    [-5, 0, 5], B_W, B_H, "PC1 (30.84%)", "PC2 (12.91%)", 15, 19, [290, 550, 700, 700],
                    ydomain_line=False, ytitle_y=B_TOPGAP + B_PLOT_H / 2,
                    pre=[vline(0, B_TOPGAP, B_H)],
                    post=[text_layer(861 - B_LEFT, 14 - A_TOP, "b", size=30, weight="bold")] + legend_layers)
lead1 = spacer(A_LEFT, A_H, [anchor_layer(0, -A_TOP, 905 - A_TOP),
                             text_layer(11, 14 - A_TOP, "a", size=30, weight="bold")])
row1 = alt.hconcat(lead1, panel_a, spacer(B_LEFT - A_LEFT - A_W, A_H), panel_b, spacing=0,
                   bounds="flush").resolve_scale(fill="independent", shape="independent", color="independent",
                                                 size="independent")

# ---------------- row 2 ----------------
H2 = 301
C_DATA = [(ASC_PTS, ASC_BOX, ASC_TREND, ASC_DOM, ASC_TICKS, ".2f"),
          (GAL_PTS, GAL_BOX, GAL_TREND, GAL_DOM, GAL_TICKS, ".2f"),
          (GLY_PTS, GLY_BOX, GLY_TREND, GLY_DOM, GLY_TICKS, ".2f"),
          (PEN_PTS, PEN_BOX, PEN_TREND, PEN_DOM, PEN_TICKS, ".1f"),
          (PRO_PTS, PRO_BOX, PRO_TREND, PRO_DOM, PRO_TICKS, ".1f"),
          (PYR_PTS, PYR_BOX, PYR_TREND, PYR_DOM, PYR_TICKS, "d"),
          (SUC_PTS, SUC_BOX, SUC_TREND, SUC_DOM, SUC_TICKS, ".1f")]
C_LEFT, C_TOP = 98, 968
C_WIDTHS = [237, 239, 238, 240, 238, 238, 230]
C_GAPS = [84, 76, 66, 59, 53, 58]
row2_items = [spacer(C_LEFT, H2, [anchor_layer(0, 909 - C_TOP, 1368 - C_TOP),
                                  text_layer(10, 932 - C_TOP, "c", size=30, weight="bold")])]
for i, (pts, box, tr, dom, ticks, fmt) in enumerate(C_DATA):
    extra = None
    ytitle = None
    if i == 0:
        extra = n_labels(N_C, 52, 83)
        ytitle = "Relative abundance"
    if i == 3:
        extra = lambda X, Y, w, h: [text_layer(89, h + 61, "Stages")]
    row2_items.append(box_panel(pts, box, tr, C_COLORS[i], dom, ticks, fmt, C_WIDTHS[i], H2, title=C_TITLES[i],
                                title_dy=36, ytitle=ytitle, ytitle_pad=12, extra=extra))
    if i < len(C_GAPS):
        row2_items.append(spacer(C_GAPS[i], H2))
row2 = alt.hconcat(*row2_items, spacing=0, bounds="flush")

# ---------------- row 3 ----------------
H3 = 300
D_DATA = [(RED_PTS, RED_BOX, RED_TREND, RED_DOM, RED_TICKS, "d"),
          (ORA_PTS, ORA_BOX, ORA_TREND, ORA_DOM, ORA_TICKS, ".1f"),
          (YEL_PTS, YEL_BOX, YEL_TREND, YEL_DOM, YEL_TICKS, "d"),
          (GRN_PTS, GRN_BOX, GRN_TREND, GRN_DOM, GRN_TICKS, "d"),
          (PUR_PTS, PUR_BOX, PUR_TREND, PUR_DOM, PUR_TICKS, ".1f")]
D_LEFT, D_TOP = 97, 1423
D_WIDTHS = [179, 174, 178, 188, 166]
D_GAPS = [88, 99, 86, 100, 125]
row3_items = [spacer(D_LEFT, H3, [anchor_layer(0, 1372 - D_TOP, 1830 - D_TOP),
                                  text_layer(9, 1397 - D_TOP, "d", size=30, weight="bold")])]
for i, (pts, box, tr, dom, ticks, fmt) in enumerate(D_DATA):
    extra = None
    ytitle = None
    if i == 0:
        extra = n_labels(N_D, 55, 89)
        ytitle = "Relative abundance"
    if i == 3:
        extra = lambda X, Y, w, h: [text_layer(226, h + 64, "Stages")]
    row3_items.append(box_panel(pts, box, tr, D_COLORS[i], dom, ticks, fmt, D_WIDTHS[i], H3, title=D_TITLES[i],
                                title_dy=26, ytitle=ytitle, ytitle_pad=20, pt_size=60, extra=extra))
    row3_items.append(spacer(D_GAPS[i], H3))

OTHER_DATA = [(DES_PTS, DES_BOX, DES_TREND), (ROT_PTS, ROT_BOX, ROT_TREND), (LAU_PTS, LAU_BOX, LAU_TREND),
              (FUS_PTS, FUS_BOX, FUS_TREND), (SCH_PTS, SCH_BOX, SCH_TREND)]
OW = 126
OGAP = 10
STRIP_H = 50
px_per_unit = (H3 - STRIP_H) / (OTHER_VISIBLE_DOM[1] - OTHER_VISIBLE_DOM[0])
other_dom = [OTHER_VISIBLE_DOM[0], OTHER_VISIBLE_DOM[1] + STRIP_H / px_per_unit]
for i, (pts, box, tr) in enumerate(OTHER_DATA):
    def extra(X, Y, w, h, i=i):
        out = [text_layer(w / 2, 7, OTHER_LINE1[i], size=21, style="italic"),
               text_layer(w / 2, 32, OTHER_LINE2[i], size=21, style="italic")]
        if i == 0:
            span = 5 * OW + 4 * OGAP
            out += [alt.Chart(ONE).mark_rule(color="black", strokeWidth=1.5).encode(
                        x=alt.value(0), x2=alt.value(span), y=alt.value(-11)),
                    text_layer(span / 2, -33, "Other")]
        return out
    pre = [vline(0, STRIP_H, H3)] if i == 0 else []
    row3_items.append(box_panel(pts, box, tr, OTHER_COLORS[i], other_dom, OTHER_TICKS, "d", OW, H3,
                                yaxis=(i == 0), ytitle=("Relative abundance" if i == 0 else None), ytitle_pad=15,
                                ytitle_y=(STRIP_H + H3) / 2, ydomain_line=False, pt_size=70, extra=extra, pre=pre))
    if i < 4:
        row3_items.append(spacer(OGAP, H3))
row3 = alt.hconcat(*row3_items, spacing=0, bounds="flush")

# ---------------- row 4: tree ----------------
parent = dict(zip(NODE_NAMES, NODE_PARENTS))
blen = dict(zip(NODE_NAMES, BRANCH_LENGTHS))
children = {n: [] for n in NODE_NAMES}
for n, p in parent.items():
    if p is not None:
        children[p].append(n)
xpos = {}
for n in NODE_NAMES:
    p = parent[n]
    xpos[n] = (xpos[p] if p is not None else 0.0) + blen[n]
tips = [n for n in NODE_NAMES if not children[n]]
ypos = {}
cursor = 0.0
for t in tips:
    if t in COLLAPSED:
        ypos[t] = cursor + 0.5
        cursor += 2
    else:
        ypos[t] = cursor
        cursor += 1
for n in reversed(NODE_NAMES):
    if children[n]:
        ypos[n] = sum(ypos[c] for c in children[n]) / len(children[n])

E_LEFT = 214
TREE_UNIT_PX = 159
TREE_ROW_PX = 40.5
TREE_XDOM = [0, 11.6]
TREE_YDOM = [-0.75, 12.6]
LEADER_END = 8.81
LABEL_X = 8.89
TRI_HALF = 1.03
tree_w = (TREE_XDOM[1] - TREE_XDOM[0]) * TREE_UNIT_PX
tree_h = (TREE_YDOM[1] - TREE_YDOM[0]) * TREE_ROW_PX
E_TOP = 1883 - (0 - TREE_YDOM[0]) * TREE_ROW_PX

seg = []
for n in NODE_NAMES:
    p = parent[n]
    if p is not None:
        seg.append({"x": xpos[p], "x2": xpos[n], "y": ypos[n], "y2": ypos[n]})
    if children[n] and len(children[n]) > 1:
        cy = [ypos[c] for c in children[n]]
        seg.append({"x": xpos[n], "x2": xpos[n], "y": min(cy), "y2": max(cy)})
dseg = pd.DataFrame(seg)

lead, labs = [], []
for t in tips:
    xe = xpos[t]
    if t in COLLAPSED:
        j = COLLAPSED.index(t)
        xe = xpos[t] + max(COLLAPSED_DEPTH_TOP[j], COLLAPSED_DEPTH_BOTTOM[j])
    lead.append({"x": xe + 0.02, "x2": LEADER_END, "y": ypos[t]})
    labs.append({"name": t, "x": LABEL_X, "y": ypos[t], "red": t in HIGHLIGHT_TIPS})
dlead = pd.DataFrame(lead)
dlab = pd.DataFrame(labs)

tri = []
for j, t in enumerate(COLLAPSED):
    x0, c = xpos[t], ypos[t]
    dt, db = COLLAPSED_DEPTH_TOP[j], COLLAPSED_DEPTH_BOTTOM[j]
    tri += [{"name": t, "x": x0, "y": c, "y2": c},
            {"name": t, "x": x0 + dt, "y": c - TRI_HALF, "y2": c + TRI_HALF * dt / db},
            {"name": t, "x": x0 + db, "y": c + TRI_HALF, "y2": c + TRI_HALF}]
dtri = pd.DataFrame(tri)

BOOT_PX_OFFSET = {"H": (-12, -14), "I": (-20, 14), "J": (-3, 13)}
boot = []
for n, v in zip(BOOT_NODES, BOOT_VALUES):
    dx, dy = BOOT_PX_OFFSET.get(n, (0, 15))
    mx = (xpos[parent[n]] + xpos[n]) / 2
    boot.append({"x": mx + dx / TREE_UNIT_PX, "y": ypos[n] + dy / TREE_ROW_PX, "t": str(v)})
dboot = pd.DataFrame(boot)

vk_top = min(ypos[t] for t in VIKING_TIPS) - 0.27
vk_bot = max(ypos[t] for t in VIKING_TIPS) + 0.23
BR_X = 9.79
dbr = pd.DataFrame([{"x": BR_X, "x2": BR_X, "y": vk_top, "y2": vk_bot},
                    {"x": BR_X - 0.09, "x2": BR_X, "y": vk_top, "y2": vk_top},
                    {"x": BR_X - 0.09, "x2": BR_X, "y": vk_bot, "y2": vk_bot}])
SB_X0, SB_Y = 2.0, -0.45
dsb = pd.DataFrame([{"x": SB_X0, "x2": SB_X0 + SCALE_BAR_LENGTH, "y": SB_Y, "y2": SB_Y, "w": 3.5},
                    {"x": SB_X0, "x2": SB_X0, "y": SB_Y - 0.15, "y2": SB_Y + 0.15, "w": 1.5},
                    {"x": SB_X0 + SCALE_BAR_LENGTH, "x2": SB_X0 + SCALE_BAR_LENGTH, "y": SB_Y - 0.15,
                     "y2": SB_Y + 0.15, "w": 1.5},
                    {"x": SB_X0 + SCALE_BAR_LENGTH / 2, "x2": SB_X0 + SCALE_BAR_LENGTH / 2, "y": SB_Y - 0.05,
                     "y2": SB_Y + 0.1, "w": 1.5}])
dvk = pd.DataFrame({"t": ["Vikings"], "x": [BR_X + 0.15], "y": [(vk_top + vk_bot) / 2]})

TX = alt.Scale(domain=TREE_XDOM, nice=False, zero=False)
TY = alt.Scale(domain=TREE_YDOM, nice=False, zero=False, reverse=True)


def tx(f):
    return alt.X(f, scale=TX, axis=None)


def ty(f):
    return alt.Y(f, scale=TY, axis=None)


l_lead = alt.Chart(dlead).mark_rule(color="#b0b0b0", strokeWidth=1.6, strokeDash=[4, 6]).encode(
    x=tx("x:Q"), x2="x2:Q", y=ty("y:Q"))
l_branch = alt.Chart(dseg).mark_rule(color="black", strokeWidth=2.2).encode(
    x=tx("x:Q"), x2="x2:Q", y=ty("y:Q"), y2="y2:Q")
l_tri = alt.Chart(dtri).mark_area(fill="#808080", stroke="black", strokeWidth=1.2, orient="vertical",
                                  opacity=1).encode(x=tx("x:Q"), y=ty("y:Q"), y2="y2:Q", detail="name:N")
l_lab = alt.Chart(dlab).mark_text(font=FONT, fontSize=25, align="left", baseline="middle").encode(
    x=tx("x:Q"), y=ty("y:Q"), text="name:N",
    color=alt.condition("datum.red", alt.value("#e8141c"), alt.value("black")))
l_boot = alt.Chart(dboot).mark_text(font=FONT, fontSize=23, align="center", baseline="middle",
                                    color="black").encode(x=tx("x:Q"), y=ty("y:Q"), text="t:N")
l_br = alt.Chart(dbr).mark_rule(color="black", strokeWidth=1.8).encode(
    x=tx("x:Q"), x2="x2:Q", y=ty("y:Q"), y2="y2:Q")
l_vk = alt.Chart(dvk).mark_text(font=FONT, fontSize=25, angle=270, align="center", baseline="middle",
                                color="black").encode(x=tx("x:Q"), y=ty("y:Q"), text="t:N")
l_sb = alt.Chart(dsb).mark_rule(color="#666666").encode(
    x=tx("x:Q"), x2="x2:Q", y=ty("y:Q"), y2="y2:Q", strokeWidth=alt.StrokeWidth("w:Q", scale=None))
tree = alt.layer(l_lead, l_branch, l_tri, l_lab, l_boot, l_br, l_vk, l_sb).properties(width=tree_w, height=tree_h)
lead4 = spacer(E_LEFT, tree_h, [anchor_layer(0, 1834 - E_TOP, 0),
                                text_layer(11, 1852 - E_TOP, "e", size=30, weight="bold")])
row4 = alt.hconcat(lead4, tree, spacing=0, bounds="flush")

chart = alt.vconcat(row1, row2, row3, row4, spacing=4, padding=0).configure_view(stroke=None).configure_axis(
    labelFont=FONT, titleFont=FONT, labelFontSize=25, titleFontSize=25, titleFontWeight="normal",
    labelColor="#333333", titleColor="black", domainColor="black", domainWidth=1.5, tickColor="black",
    tickWidth=1.5, tickSize=7, labelPadding=5, grid=False).configure_title(font=FONT)

chart.save("out.html", embed_options={"renderer": "svg", "actions": False})
